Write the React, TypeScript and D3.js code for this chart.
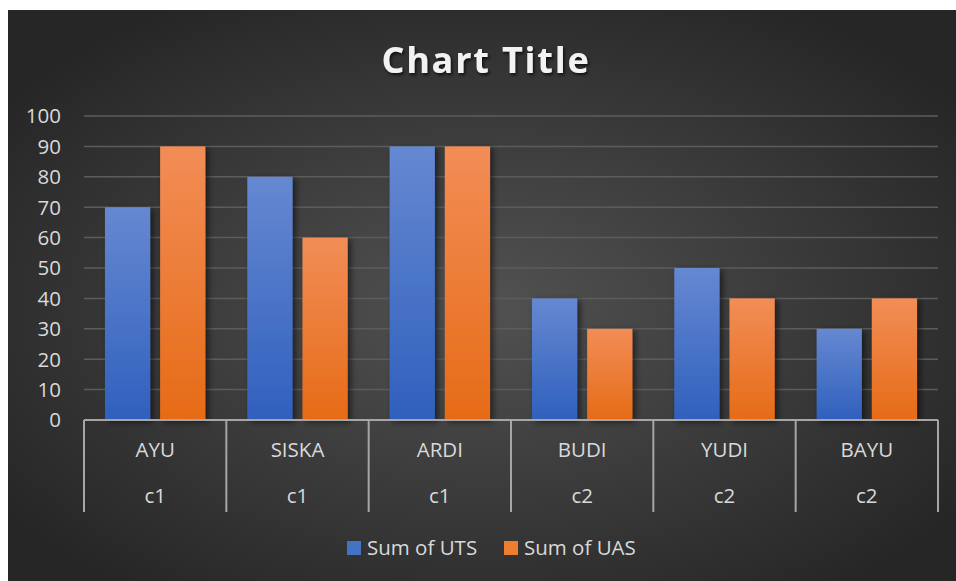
import React from "react";
import * as d3 from "d3";

const names = ["AYU", "SISKA", "ARDI", "BUDI", "YUDI", "BAYU"];
const groups = ["c1", "c1", "c1", "c2", "c2", "c2"];
const seriesNames = ["Sum of UTS", "Sum of UAS"];
const uts = [70, 80, 90, 40, 50, 30];
const uas = [90, 60, 90, 30, 40, 40];
const yTicks = [0, 10, 20, 30, 40, 50, 60, 70, 80, 90, 100];

const W = 956;
const H = 581;
const FONT = "'Open Sans', 'DejaVu Sans', sans-serif";
const LABEL_SIZE = 20.5;

export default function App() {
  const x = d3.scaleBand<string>().domain(names).range([84, 938]).padding(0);
  const y = d3.scaleLinear().domain([0, 100]).range([420, 116]);
  const inner = d3
    .scaleBand<string>()
    .domain(seriesNames)
    .range([0, x.bandwidth()])
    .paddingInner(0.18)
    .paddingOuter(0.38);
  const values = [uts, uas];
  const gradIds = ["gBlue", "gOrange"];
  const legendColors = ["#4472c4", "#ed7d31"];
  const sepXs = [...names.map((n) => x(n) as number), 938];
  const legendX = [347, 504];

  return (
    <svg width={W} height={H} style={{ position: "absolute", left: 0, top: 0 }}>
      <defs>
        <radialGradient id="bg" cx="0.5" cy="0.52" r="0.62">
          <stop offset="0" stopColor="#525252" />
          <stop offset="1" stopColor="#262626" />
        </radialGradient>
        <linearGradient id="gBlue" x1="0" y1="0" x2="0" y2="1">
          <stop offset="0" stopColor="#6688d1" />
          <stop offset="1" stopColor="#2f60bd" />
        </linearGradient>
        <linearGradient id="gOrange" x1="0" y1="0" x2="0" y2="1">
          <stop offset="0" stopColor="#f28d57" />
          <stop offset="1" stopColor="#e66b16" />
        </linearGradient>
        <filter id="shadow" x="-30%" y="-10%" width="160%" height="130%">
          <feDropShadow dx="3" dy="2" stdDeviation="3" floodColor="#000" floodOpacity="0.55" />
        </filter>
        <filter id="tshadow" x="-10%" y="-30%" width="120%" height="160%">
          <feDropShadow dx="1.5" dy="2" stdDeviation="1.5" floodColor="#000" floodOpacity="0.7" />
        </filter>
      </defs>
      <rect x={0} y={0} width={W} height={H} fill="#ffffff" />
      <rect x={8} y={10} width={W - 8} height={H - 10} fill="url(#bg)" />

      <text
        x={486}
        y={73}
        textAnchor="middle"
        fontFamily={FONT}
        fontWeight="bold"
        fontSize={36}
        letterSpacing={1.8}
        fill="#f2f2f2"
        filter="url(#tshadow)"
      >
        Chart Title
      </text>

      {yTicks.map((t) => (
        <g key={t}>
          {t > 0 && (
            <line x1={84} x2={938} y1={y(t)} y2={y(t)} stroke="#5c5c5c" strokeWidth={1.5} />
          )}
          <text
            x={61}
            y={y(t)}
            dy="0.36em"
            textAnchor="end"
            fontFamily={FONT}
            fontSize={LABEL_SIZE}
            fill="#d9d9d9"
          >
            {t}
          </text>
        </g>
      ))}

      {values.map((vals, si) => (
        <g key={si}>
          {names.map((n, i) => (
            <rect
              key={n}
              x={(x(n) as number) + (inner(seriesNames[si]) as number)}
              y={y(vals[i])}
              width={inner.bandwidth()}
              height={y(0) - y(vals[i])}
              fill={`url(#${gradIds[si]})`}
              filter="url(#shadow)"
            />
          ))}
        </g>
      ))}

      <line x1={84} x2={938} y1={420} y2={420} stroke="#a6a6a6" strokeWidth={2} />
      {sepXs.map((sx, i) => (
        <line key={i} x1={sx} x2={sx} y1={420} y2={512} stroke="#a6a6a6" strokeWidth={2} />
      ))}

      {names.map((n, i) => (
        <g key={n}>
          <text
            x={(x(n) as number) + x.bandwidth() / 2}
            y={450}
            dy="0.36em"
            textAnchor="middle"
            fontFamily={FONT}
            fontSize={LABEL_SIZE}
            fill="#d9d9d9"
          >
            {n}
          </text>
          <text
            x={(x(n) as number) + x.bandwidth() / 2}
            y={496}
            dy="0.36em"
            textAnchor="middle"
            fontFamily={FONT}
            fontSize={LABEL_SIZE}
            fill="#d9d9d9"
          >
            {groups[i]}
          </text>
        </g>
      ))}

      {seriesNames.map((s, i) => (
        <g key={s}>
          <rect x={legendX[i]} y={541} width={14} height={14} fill={legendColors[i]} />
          <text
            x={legendX[i] + 20}
            y={548}
            dy="0.36em"
            fontFamily={FONT}
            fontSize={LABEL_SIZE}
            fill="#d9d9d9"
          >
            {s}
          </text>
        </g>
      ))}
    </svg>
  );
}
